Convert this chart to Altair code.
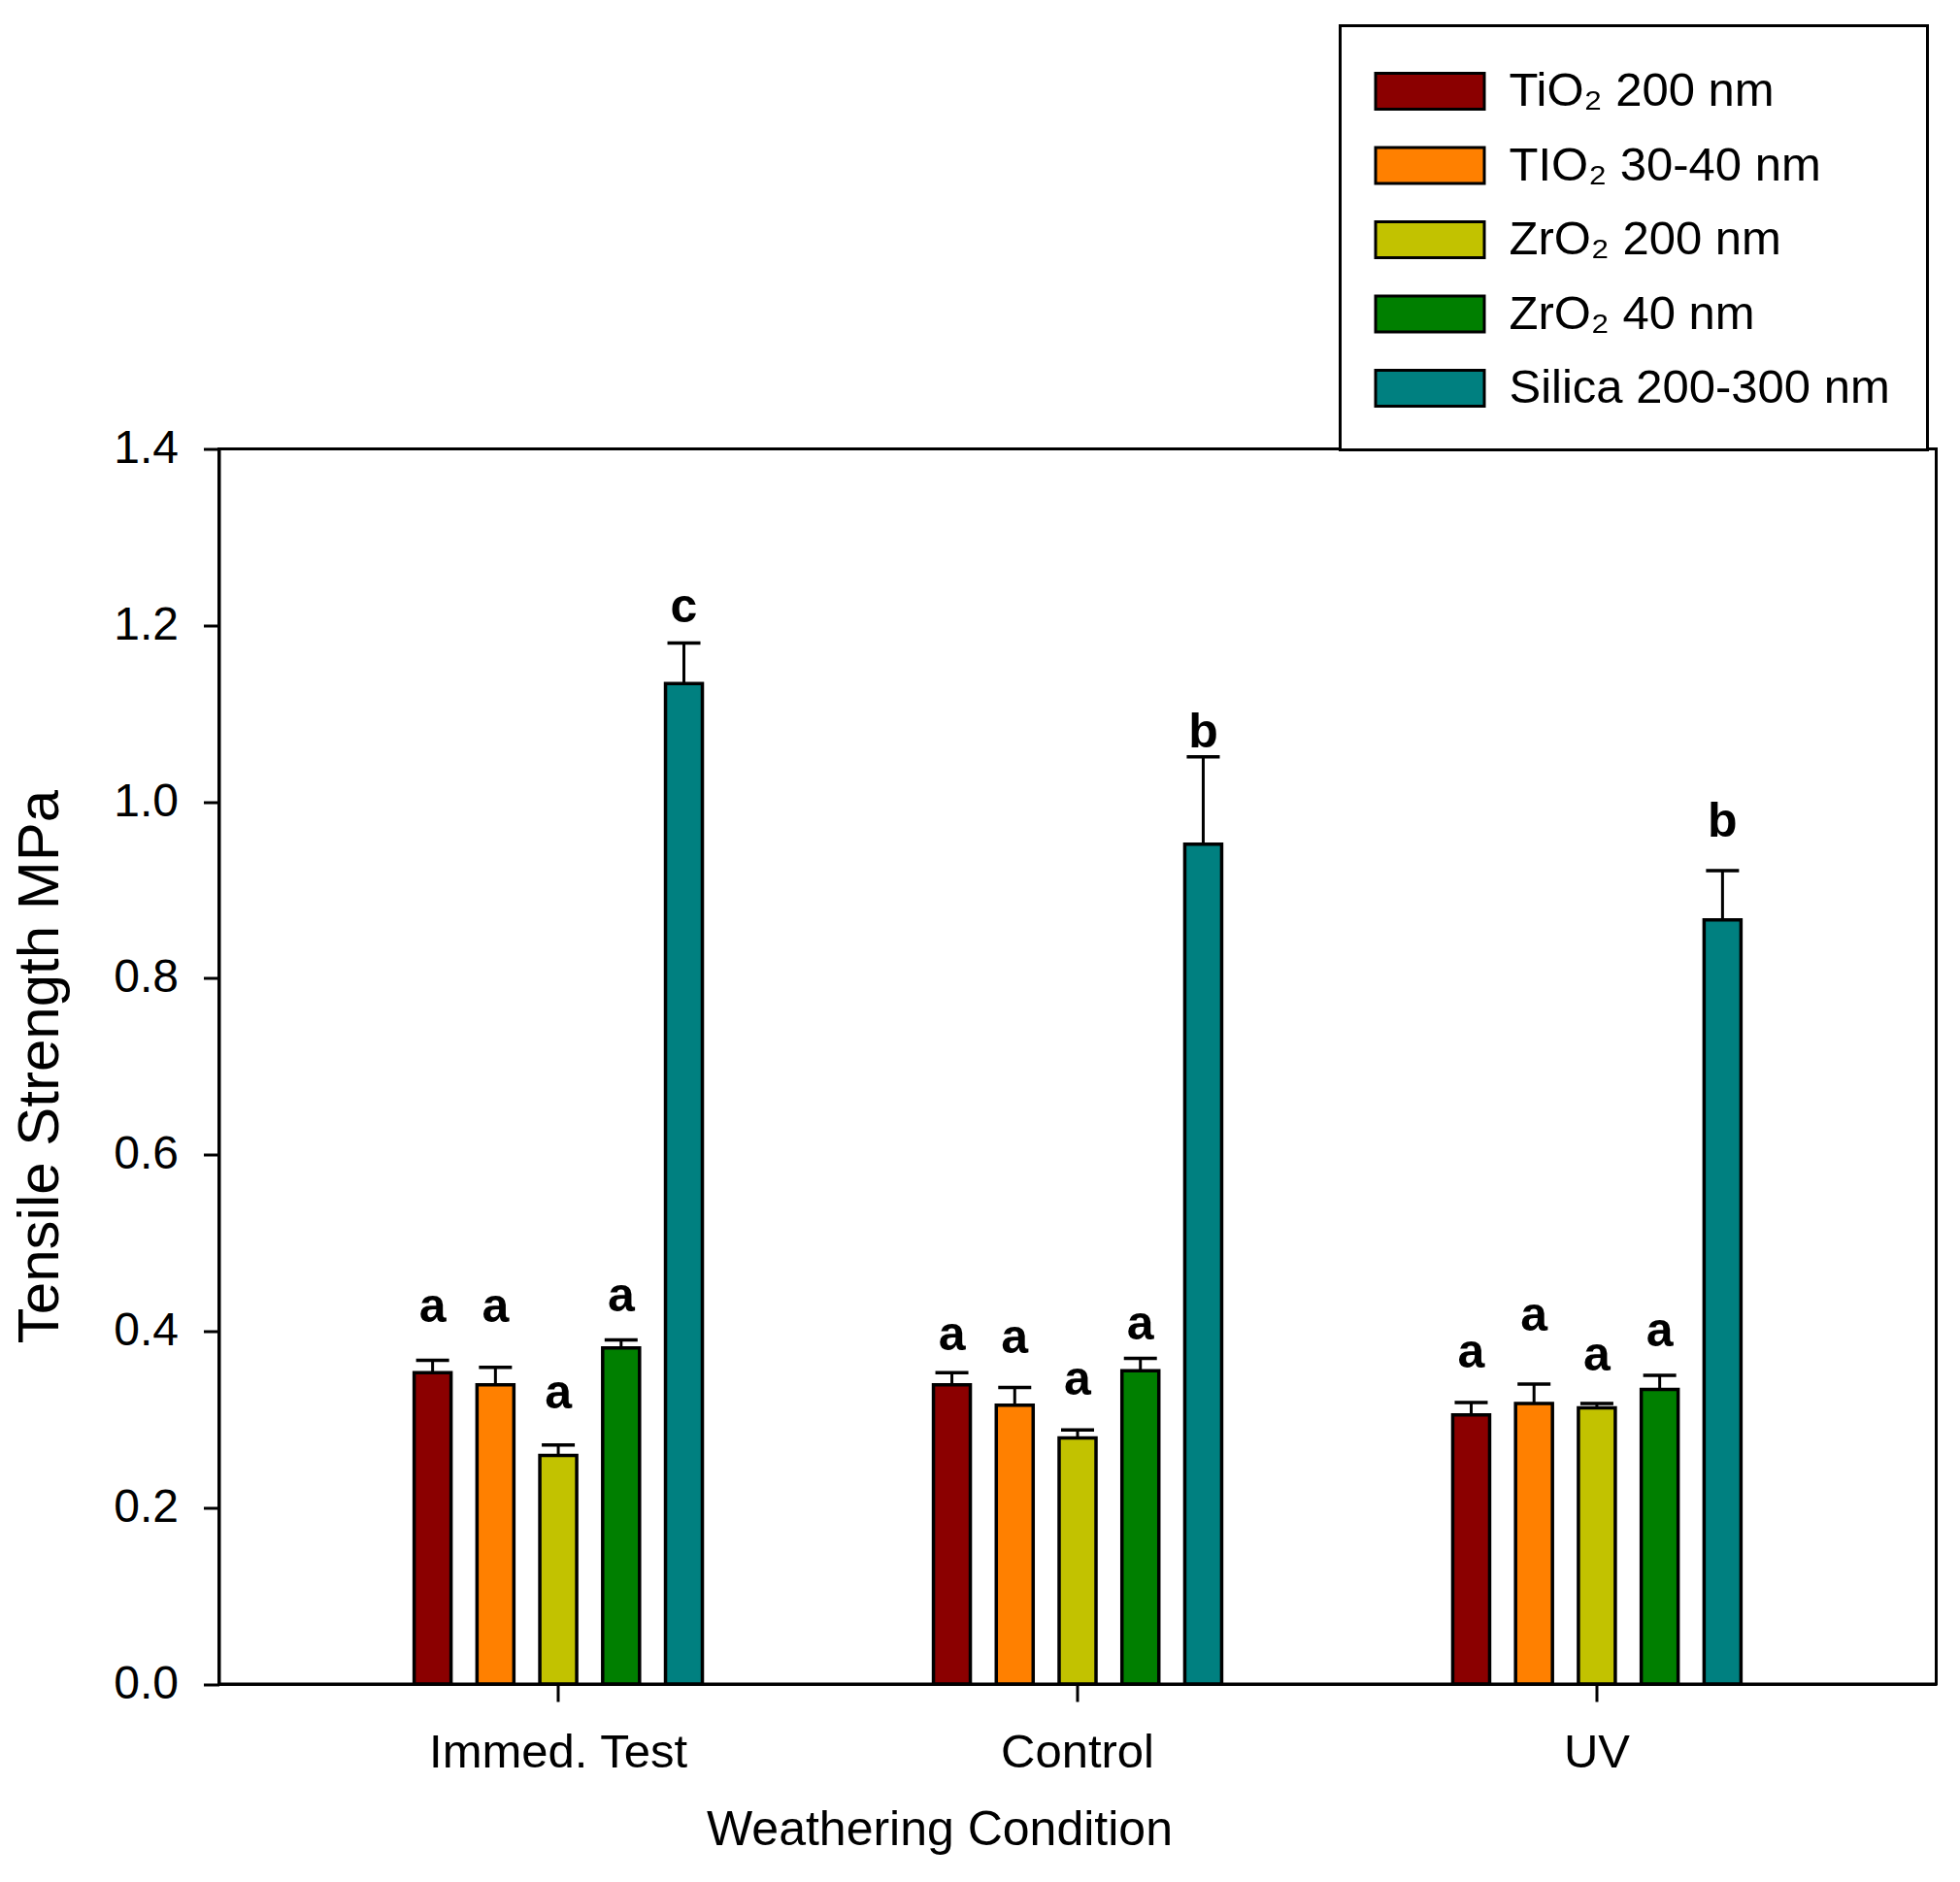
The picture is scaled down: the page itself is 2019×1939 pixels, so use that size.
import altair as alt
import pandas as pd

conditions = ["Immed. Test", "Control", "UV"]
materials = ["TiO₂ 200 nm", "TIO₂ 30-40 nm", "ZrO₂ 200 nm", "ZrO₂ 40 nm", "Silica 200-300 nm"]
colors = ["#8B0000", "#FF8000", "#C2C200", "#007F00", "#008080"]

# mean tensile strength (MPa) per material, across conditions
tio2_200 = [0.353, 0.339, 0.305]
tio2_3040 = [0.339, 0.316, 0.318]
zro2_200 = [0.259, 0.279, 0.313]
zro2_40 = [0.381, 0.355, 0.334]
silica = [1.134, 0.952, 0.866]
means = [tio2_200, tio2_3040, zro2_200, zro2_40, silica]

# upper error (SE)
errs = [
    [0.014, 0.014, 0.014],
    [0.020, 0.020, 0.022],
    [0.012, 0.009, 0.005],
    [0.009, 0.014, 0.016],
    [0.046, 0.099, 0.056],
]

letters = [
    ["a", "a", "a"],
    ["a", "a", "a"],
    ["a", "a", "a"],
    ["a", "a", "a"],
    ["c", "b", "b"],
]
letter_y = [
    [0.410, 0.379, 0.359],
    [0.410, 0.375, 0.400],
    [0.312, 0.328, 0.355],
    [0.423, 0.391, 0.383],
    [1.204, 1.062, 0.960],
]

rows = []
for mi, m in enumerate(materials):
    for ci, c in enumerate(conditions):
        rows.append(dict(condition=c, material=m, mean=means[mi][ci],
                         top=means[mi][ci] + errs[mi][ci],
                         letter=letters[mi][ci], label_y=letter_y[mi][ci]))
df = pd.DataFrame(rows)

FONT = "Liberation Sans"

yscale = alt.Scale(domain=[0, 1.4], nice=False, zero=True)
yaxis = alt.Axis(values=[0, 0.2, 0.4, 0.6, 0.8, 1.0, 1.2, 1.4], format=".1f",
                 title="Tensile Strength MPa", titleFontSize=60, titleFont=FONT,
                 titleFontWeight="normal", titleColor="black",
                 titleX=-166, titleY=636, titleAngle=270, titleBaseline="alphabetic",
                 titleAlign="center",
                 labelFontSize=48, labelFont=FONT, labelColor="black", labelPadding=26,
                 tickSize=16, tickWidth=3, tickColor="black",
                 domainWidth=3, domainColor="black", grid=False)
xaxis = alt.Axis(title="Weathering Condition", titleFontSize=50, titleFont=FONT,
                 titleFontWeight="normal", titleColor="black",
                 titleX=742, titleY=165, titleBaseline="alphabetic", titleAlign="center",
                 labelFontSize=49, labelFont=FONT, labelColor="black", labelPadding=28,
                 labelLimit=1000,
                 labelAngle=0, tickSize=18, tickWidth=3, tickColor="black",
                 domainWidth=3, domainColor="black", grid=False)

base = alt.Chart(df).encode(
    x=alt.X("condition:N", sort=conditions,
            scale=alt.Scale(paddingInner=0.395, paddingOuter=0.351), axis=xaxis),
    xOffset=alt.XOffset("material:N", sort=materials,
                        scale=alt.Scale(paddingInner=0.413, paddingOuter=0.2065)),
)

bars = base.mark_bar(stroke="black", strokeWidth=3.5).encode(
    y=alt.Y("mean:Q", scale=yscale, axis=yaxis),
    color=alt.Color("material:N", sort=materials,
                    scale=alt.Scale(domain=materials, range=colors),
                    legend=alt.Legend(title=None, orient="none", legendX=1155, legendY=-436,
                                      direction="vertical",
                                      symbolType="M-2,-0.66H2V0.66H-2Z", symbolSize=3136,
                                      symbolStrokeColor="black", symbolStrokeWidth=3,
                                      symbolOpacity=1, symbolOffset=25,
                                      labelFontSize=49, labelFont=FONT, labelColor="black",
                                      labelOffset=52, labelLimit=1000, rowPadding=21.5,
                                      padding=38, strokeColor="black", fillColor="white")),
)

rules = base.mark_rule(color="black", strokeWidth=3).encode(
    y=alt.Y("mean:Q", scale=yscale, axis=yaxis),
    y2="top:Q",
)
caps = base.mark_tick(color="black", size=34, thickness=3.5, opacity=1).encode(
    y=alt.Y("top:Q", scale=yscale, axis=yaxis),
)
texts = base.mark_text(font=FONT, fontSize=50, fontWeight="bold", color="black",
                       baseline="alphabetic", align="center").encode(
    y=alt.Y("label_y:Q", scale=yscale, axis=yaxis),
    text="letter:N",
)

chart = alt.layer(rules, caps, bars, texts).properties(
    width=1769, height=1272.5,
    autosize=alt.AutoSizeParams(type="none"),
    padding={"left": 217.5, "top": 454.5, "right": 16, "bottom": 196},
    background="white",
).configure_view(stroke="black", strokeWidth=3).configure_legend(strokeWidth=3)

chart.save("out.html", embed_options={"renderer": "svg", "actions": False})
